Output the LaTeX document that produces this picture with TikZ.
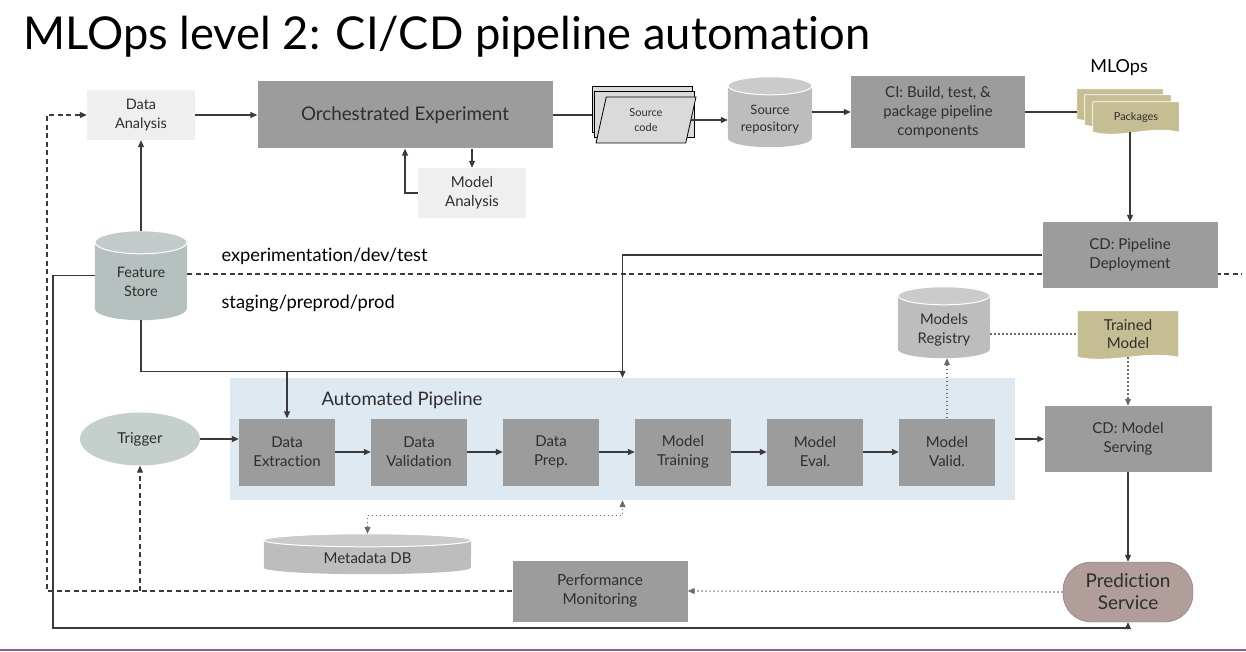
\documentclass[tikz,border=0pt]{standalone}
\usepackage{fontspec}
\setmainfont{Lato}[Ligatures=NoCommon]
\usetikzlibrary{arrows.meta}
\usetikzlibrary{shapes.geometric}
\usetikzlibrary{calc}
\usetikzlibrary{backgrounds}

\definecolor{boxgray}{HTML}{9C9C9C}
\definecolor{lightbox}{HTML}{EFEFEF}
\definecolor{txtdark}{HTML}{2E2E2E}
\definecolor{linegray}{HTML}{3A3A3A}
\definecolor{dotgray}{HTML}{6A6A6A}
\definecolor{dbbody}{HTML}{BDBDBD}
\definecolor{dbtop}{HTML}{CBCBCB}
\definecolor{fsbody}{HTML}{B6C0BE}
\definecolor{fstop}{HTML}{C2CBC9}
\definecolor{trigfill}{HTML}{C5CFCC}
\definecolor{doctan}{HTML}{C6BE93}
\definecolor{predbrown}{HTML}{B19E9B}
\definecolor{pipeblue}{HTML}{DFE9F1}
\definecolor{slidepurple}{HTML}{8E5C9E}
\definecolor{srcgray}{HTML}{DADADA}

% wavy-bottom document fill behind a node
\newcommand{\docfill}[1]{%
  \filldraw[fill=doctan, draw=white, line width=0.8pt] (#1.north west) -- (#1.north east) -- (#1.south east)
    .. controls ($(#1.south east)!0.35!(#1.south west)+(0,-7)$) and ($(#1.south east)!0.65!(#1.south west)+(0,7)$) .. (#1.south west) -- cycle;}
% cylinder behind a node: name, x radius, y radius, body, top
\newcommand{\cylfill}[5]{%
  \fill[#4] ([yshift=-#3]#1.north west) -- ([yshift=#3]#1.south west)
    arc[start angle=180, end angle=360, x radius=#2, y radius=#3] -- ([yshift=-#3]#1.north east) -- cycle;
  \filldraw[fill=#5, draw=white, line width=1pt] ([yshift=-#3]#1.north) ellipse[x radius=#2, y radius=#3];}
% text sitting in the body of a cylinder
\newcommand{\sunk}[2][8pt]{\raisebox{-#1}[\height][\depth]{\begin{tabular}{@{}c@{}}#2\end{tabular}}}

\begin{document}
\begin{tikzpicture}[x=1pt,y=-1pt,
  box/.style={fill=boxgray, text=txtdark, align=center, inner sep=0pt},
  stagebox/.style={box, minimum width=96pt, minimum height=67pt, font=\fontsize{15}{19}\selectfont},
  litebox/.style={fill=lightbox, text=txtdark, align=center, inner sep=0pt, minimum width=108pt, minimum height=50pt, font=\fontsize{14.5}{19}\selectfont},
  storenode/.style={align=center, text=txtdark, inner sep=0pt},
  srcsheet/.style={trapezium, trapezium left angle=66, trapezium right angle=114, trapezium stretches body, minimum width=100pt, minimum height=46pt, fill=srcgray, draw=black, line width=0.8pt, align=center, text=txtdark, inner sep=0pt},
  docnode/.style={minimum width=86pt, minimum height=30pt, inner sep=0pt, align=center, text=txtdark},
  plain/.style={draw=linegray, line width=1.1pt},
  flow/.style={plain, -{Triangle[length=7pt,width=6pt]}},
  dashflow/.style={flow, dash pattern=on 5pt off 3.5pt},
  dotflow/.style={flow, draw=dotgray, dash pattern=on 1.5pt off 2.5pt},
  envline/.style={plain, dash pattern=on 5pt off 3.5pt}
]
\useasboundingbox (0,0) rectangle (1246,652);

\node[anchor=base west, font=\fontsize{45.3}{50}\selectfont] (title) at (20,50) {MLOps level 2: CI/CD pipeline automation};

% experimentation
\node[litebox] (da) at (141,115) {Data\\Analysis};
\node[box, minimum width=295pt, minimum height=67pt, font=\fontsize{18.8}{22}\selectfont] (oe) at (405,115) {Orchestrated Experiment};
\node[litebox, font=\fontsize{15}{19}\selectfont] (ma) at (472,193) {Model\\Analysis};
\node[storenode, minimum width=92pt, minimum height=89pt, font=\fontsize{14.5}{19}\selectfont] (fs) at (141,275.5) {\sunk{Feature\\Store}};

% CI
\node[srcsheet] (srcc) at (642,109) {};
\node[srcsheet] (srcb) at (644,114.5) {};
\node[srcsheet, font=\fontsize{11}{15}\selectfont] (src) at (646,120) {Source\\code};
\node[storenode, minimum width=84pt, minimum height=70pt, font=\fontsize{13}{17}\selectfont] (repo) at (770,112) {\sunk{Source\\repository}};
\node[box, minimum width=174pt, minimum height=72pt, font=\fontsize{15}{19}\selectfont] (ci) at (938,112) {CI: Build, test, \&\\package pipeline\\components};
\node[docnode] (pkgc) at (1120,104) {};
\node[docnode] (pkgb) at (1128,110) {};
\node[docnode, font=\fontsize{11}{14}\selectfont] (pkg) at (1136,117) {Packages};
\node[font=\fontsize{18}{20}\selectfont] (mlops) at (1119,68) {MLOps};
\node[box, minimum width=175pt, minimum height=66pt, font=\fontsize{15}{19}\selectfont] (cdp) at (1130,255) {CD: Pipeline\\Deployment};

% environments
\node[anchor=west, font=\fontsize{18.3}{20}\selectfont] (envdev) at (218,256) {experimentation/dev/test};
\node[anchor=west, font=\fontsize{18.3}{20}\selectfont] (envprod) at (218,303) {staging/preprod/prod};
\coordinate (envend) at (1242,274);

\node[storenode, minimum width=92pt, minimum height=71pt, font=\fontsize{14.8}{19}\selectfont] (reg) at (944,322.5) {\sunk[7.5pt]{Models\\Registry}};
\node[docnode, minimum width=101pt, minimum height=46pt, font=\fontsize{15}{18}\selectfont] (tm) at (1128,334) {Trained\\Model};

% automated pipeline
\node[fill=pipeblue, minimum width=785pt, minimum height=122pt, inner sep=0pt] (pipe) at (622.5,439) {};
\node[font=\fontsize{18.6}{20}\selectfont, text=txtdark] (pipelabel) at (402,400) {Automated Pipeline};
\foreach \n/\t [count=\i from 0] in {de/{Data\\Extraction}, dv/{Data\\Validation}, dp/{Data\\Prep.}, mt/{Model\\Training}, me/{Model\\Eval.}, mv/{Model\\Valid.}}
  \node[stagebox] (\n) at (287+132*\i,452) {\t};
\node[ellipse, fill=trigfill, minimum width=120pt, minimum height=53pt, font=\fontsize{15}{17}\selectfont, text=txtdark] (trig) at (140,439) {Trigger};
\node[box, minimum width=167pt, minimum height=66pt, font=\fontsize{15}{19}\selectfont] (cdm) at (1128,439) {CD: Model\\Serving};

% serving
\node[storenode, minimum width=207pt, minimum height=40pt, font=\fontsize{15}{18}\selectfont] (mdb) at (367.5,554) {\sunk[6pt]{Metadata DB}};
\node[box, minimum width=175pt, minimum height=61pt, font=\fontsize{15.3}{19}\selectfont] (pm) at (600,591) {Performance\\Monitoring};
\node[fill=predbrown, draw=predbrown!75!black, rounded corners=28pt, minimum width=130pt, minimum height=60pt, align=center, text=txtdark, font=\fontsize{19}{22}\selectfont] (ps) at (1128,592) {Prediction\\Service};

\begin{scope}[on background layer]
  \fill[white] (0,0) rectangle (1246,652);
  \draw[envline] (fs.east |- envend) -- (envend);
  \cylfill{fs}{46pt}{11.5pt}{fsbody}{fstop}
  \cylfill{repo}{42pt}{9pt}{dbbody}{dbtop}
  \cylfill{reg}{46pt}{9pt}{dbbody}{dbtop}
  \cylfill{mdb}{103.5pt}{6.5pt}{dbbody}{dbtop}
  \docfill{pkgc}
  \docfill{pkgb}
  \docfill{pkg}
  \docfill{tm}
\end{scope}

\coordinate (fbcorner) at (47,591);
\coordinate (loopbl) at (53,628);

\draw[flow] (da) -- (oe);
\draw[flow] (ma.north |- oe.south) -- (ma.north);
\draw[flow] (ma.west) -| (oe.south);
\draw[flow] (fs) -- (da);
\draw[plain] (oe.east) -- (oe.east -| srcc.west);
\draw[flow] (src.east) -- (src.east -| repo.west);
\draw[flow] (repo.east |- ci.west) -- (ci.west);
\draw[plain] (ci.east) -- (ci.east -| pkgc.west);
\draw[flow] (pkg.south -| cdp.north) -- (cdp.north);
\draw[flow] (cdp.west) -| (pipe.north);
\draw[flow] (fs.south) |- ([yshift=6pt]pipe.north) -| (de.north);
\draw[flow] (trig.east) -- (trig.east -| de.west);
\foreach \a/\b in {de/dv, dv/dp, dp/mt, mt/me, me/mv}
  \draw[flow] (\a) -- (\b);
\draw[dotflow] (mv.north) -- (mv.north |- reg.south);
\draw[dotflow, -] (reg.east |- tm.west) -- (tm.west);
\draw[dotflow] (tm.south) -- (cdm.north);
\draw[flow] (pipe.east |- cdm.west) -- (cdm.west);
\draw[flow] (cdm) -- (ps);
\draw[dotflow] (ps.west) -- (pm.east);
\draw[dotflow, {Triangle[length=7pt,width=6pt]}-{Triangle[length=7pt,width=6pt]}] (mdb.north) |- ($(pipe.south)+(0,15)$) -- (pipe.south);
\draw[dashflow] (pm.west) -- (fbcorner) |- (da.west);
\draw[dashflow] (trig.south |- fbcorner) -- (trig.south);
\draw[flow] (fs.west) -| (loopbl) -| (ps.south);

\draw[slidepurple, line width=2pt] (0,650) -- (1246,650);
\end{tikzpicture}
\end{document}
